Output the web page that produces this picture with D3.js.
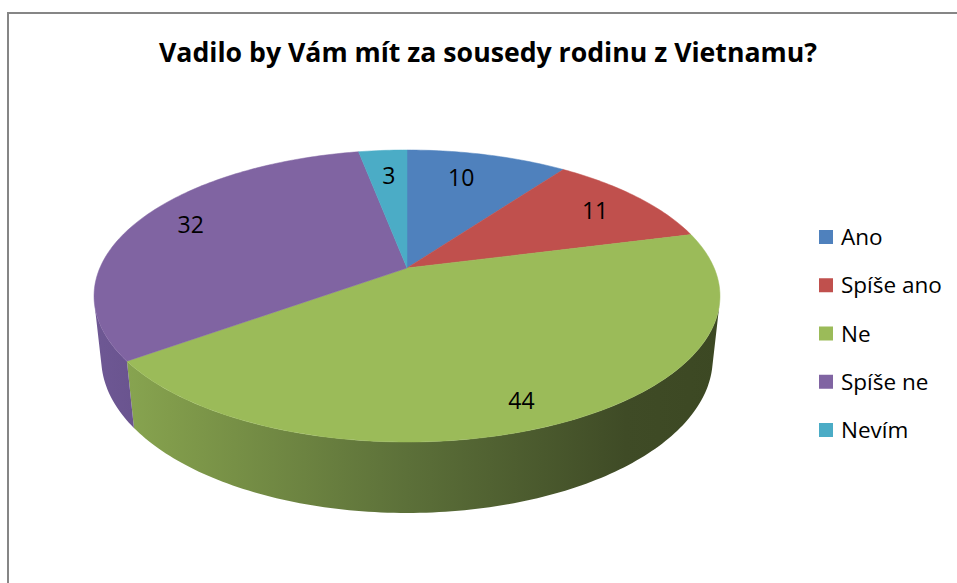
<!DOCTYPE html>
<html>
<head>
<meta charset="utf-8">
<script src="https://cdn.jsdelivr.net/npm/d3@7"></script>
<style>
  html, body { margin: 0; padding: 0; background: #fff; }
  svg { display: block; }
</style>
</head>
<body>
<div id="chart"></div>
<script>
// data
const title = "Vadilo by Vám mít za sousedy rodinu z Vietnamu?";
const categories = ["Ano", "Spíše ano", "Ne", "Spíše ne", "Nevím"];
const values = [10, 11, 44, 32, 3];
const colors = ["#4F81BD", "#C0504D", "#9BBB59", "#8064A2", "#4BACC6"];

// small hand nudges for the label placement (Excel "best fit")
const labelNudge = [[-12, 3], [1, 1], [-7, 15], [0, -4], [2, 5]];

const width = 957, height = 583;

const svg = d3.select("#chart").append("svg")
    .attr("width", width)
    .attr("height", height)
    .attr("viewBox", `0 0 ${width} ${height}`);

// chart area border
svg.append("rect")
    .attr("x", 8).attr("y", 13)
    .attr("width", width + 10).attr("height", height + 10)
    .attr("fill", "#fff")
    .attr("stroke", "#868686")
    .attr("stroke-width", 2);

svg.append("text")
    .attr("x", 488).attr("y", 62)
    .attr("text-anchor", "middle")
    .attr("textLength", 658)
    .attr("lengthAdjust", "spacingAndGlyphs")
    .style("font-family", "'Open Sans', sans-serif")
    .style("font-weight", "bold")
    .style("font-size", "26px")
    .text(title);

// simple perspective camera looking down at the pie
const cam = { cx: 407, cy: 268, k: 1424, R: 0.2157, h: 0.0497, elev: 27.25 * Math.PI / 180 };
const sinE = Math.sin(cam.elev), cosE = Math.cos(cam.elev);

function project(x, y, z) {
    const w = 1 - y * cosE - z * sinE;
    return [cam.cx + cam.k * x / w, cam.cy - cam.k * (-y * sinE + z * cosE) / w];
}

// d3 angle (0 = 12 o'clock, clockwise) -> point on disk
function rim(a, r, z) {
    return project(r * Math.sin(a), -r * Math.cos(a), z);
}

function arcPoints(a0, a1, r, z) {
    const n = Math.max(2, Math.ceil(Math.abs(a1 - a0) / (Math.PI / 180)));
    return d3.range(n + 1).map(i => rim(a0 + (a1 - a0) * i / n, r, z));
}

const pie = d3.pie().sort(null).value(d => d);
const arcs = pie(values);

const line = d3.line();

// gradients for the side wall
const defs = svg.append("defs");
const gGreen = defs.append("linearGradient")
    .attr("id", "side-2")
    .attr("gradientUnits", "userSpaceOnUse")
    .attr("x1", 94).attr("x2", 720).attr("y1", 0).attr("y2", 0);
[[0, "#8caa54"], [0.12, "#819c4b"], [0.5, "#5c7039"], [0.85, "#3f4b26"], [1, "#3c4823"]]
    .forEach(([o, c]) => gGreen.append("stop").attr("offset", o).attr("stop-color", c));
const gPurple = defs.append("linearGradient")
    .attr("id", "side-3")
    .attr("gradientUnits", "userSpaceOnUse")
    .attr("x1", 94).attr("x2", 140).attr("y1", 0).attr("y2", 0);
[[0, "#6e5894"], [1, "#69538e"]]
    .forEach(([o, c]) => gPurple.append("stop").attr("offset", o).attr("stop-color", c));

// visible part of the outer wall
const visLo = Math.acos(-cam.R / cosE);
const visHi = 2 * Math.PI - visLo;

const sides = svg.append("g");
arcs.forEach((d, i) => {
    const a0 = Math.max(d.startAngle, visLo);
    const a1 = Math.min(d.endAngle, visHi);
    if (a1 <= a0) return;
    const top = arcPoints(a0, a1, cam.R, 0);
    const bottom = arcPoints(a1, a0, cam.R, -cam.h);
    sides.append("path")
        .attr("d", line(top.concat(bottom)) + "Z")
        .attr("fill", i === 2 ? "url(#side-2)" : i === 3 ? "url(#side-3)" : d3.color(colors[i]).darker(0.8));
});

const tops = svg.append("g");
arcs.forEach((d, i) => {
    const pts = [project(0, 0, 0)].concat(arcPoints(d.startAngle, d.endAngle, cam.R, 0));
    tops.append("path")
        .attr("d", line(pts) + "Z")
        .attr("fill", colors[i])
        .attr("stroke", colors[i])
        .attr("stroke-width", 0.5);
});

// value labels
svg.append("g").selectAll("text")
    .data(arcs)
    .join("text")
    .attr("transform", (d, i) => {
        const p = rim((d.startAngle + d.endAngle) / 2, cam.R * 0.8, 0);
        return `translate(${p[0] + labelNudge[i][0]},${p[1] + labelNudge[i][1]})`;
    })
    .attr("text-anchor", "middle")
    .attr("dy", "0.36em")
    .style("font-family", "'Open Sans', sans-serif")
    .style("font-size", "23px")
    .attr("fill", "#000")
    .text(d => d.data);

// legend
const legendY = d3.scalePoint().domain(categories).range([237, 430]);
const legend = svg.append("g").selectAll("g")
    .data(categories)
    .join("g")
    .attr("transform", d => `translate(819,${legendY(d)})`);

legend.append("rect")
    .attr("x", 0).attr("y", -7)
    .attr("width", 14).attr("height", 14)
    .attr("fill", (d, i) => colors[i]);

legend.append("text")
    .attr("x", 22).attr("y", 8)
    .style("font-family", "'Open Sans', sans-serif")
    .style("font-size", "22.5px")
    .attr("fill", "#000")
    .text(d => d);
</script>
</body>
</html>
